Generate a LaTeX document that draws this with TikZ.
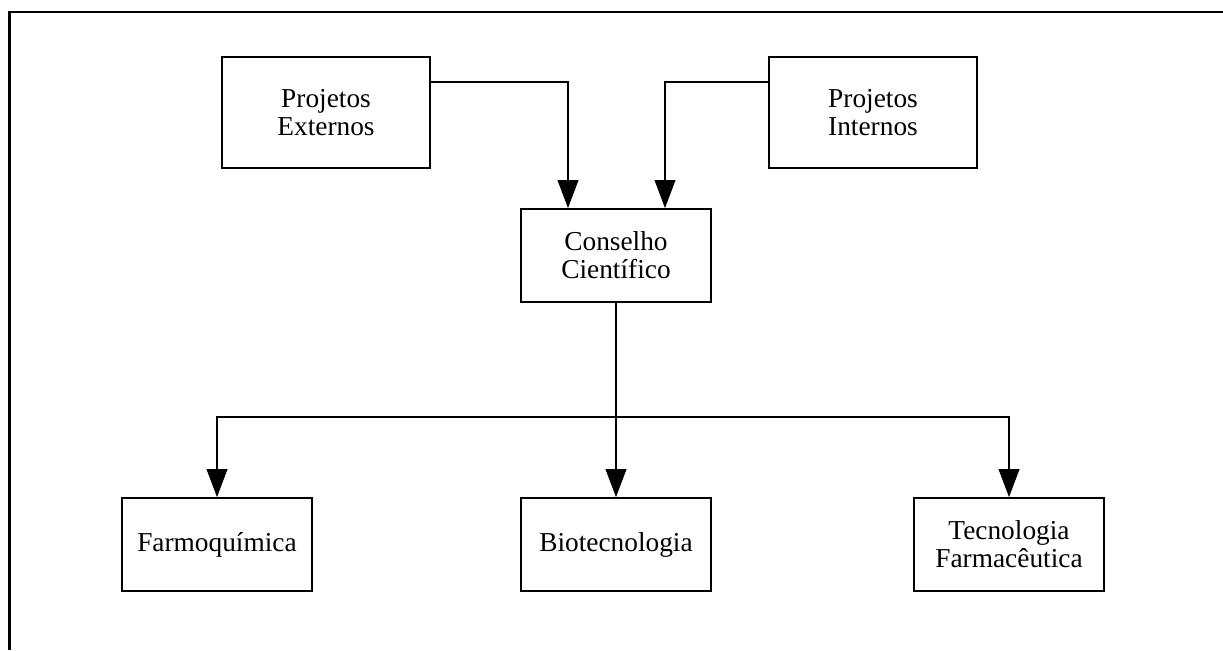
\documentclass[tikz,border=0pt]{standalone}
\usepackage{fontspec}
\setmainfont{Liberation Serif}
\usetikzlibrary{arrows.meta,calc}
\tikzset{
  box/.style={draw, line width=1.3pt, inner sep=0pt, align=center,
    font=\fontsize{20.5}{21}\selectfont},
  topbox/.style={box, minimum width=156pt, minimum height=83.25pt},
  unitbox/.style={box, minimum width=142.5pt, minimum height=69.75pt},
  arr/.style={line width=1.3pt, -{Triangle[length=21pt,width=15.5pt]}},
  link/.style={line width=1.3pt},
  frame/.style={line width=1.7pt}
}
\begin{document}
\begin{tikzpicture}[x=0.75pt,y=-0.75pt]
\useasboundingbox (0,0) rectangle (1223,650);
% open frame: top and left edges
\draw[frame] (9.5,650) -- (9.5,12) -- (1223,12);

% sources of projects
\node[topbox] (ext) at (326,112.5) {Projetos\\Externos};
\node[topbox] (int) at (873,112.5) {Projetos\\Internos};

% council
\node[unitbox] (cons) at (616,255.5) {Conselho\\Científico};

% research units
\node[unitbox] (farmo) at (217,544.5) {Farmoquímica};
\node[unitbox] (bio) at (616,544.5) {Biotecnologia};
\node[unitbox] (tec) at (1009,544.5) {Tecnologia\\Farmacêutica};

% projects flowing into the council
\draw[arr] ($(ext.north east)+(0,26)$) -| ($(cons.north)+(-48,0)$);
\draw[arr] ($(int.north west)+(0,26)$) -| ($(cons.north)+(49,0)$);

% council distributing to the units
\coordinate (hub) at (616,417);
\draw[link] (cons.south) -- (hub);
\draw[arr] (hub) -| (farmo.north);
\draw[arr] (hub) -- (bio.north);
\draw[arr] (hub) -| (tec.north);
\end{tikzpicture}
\end{document}
